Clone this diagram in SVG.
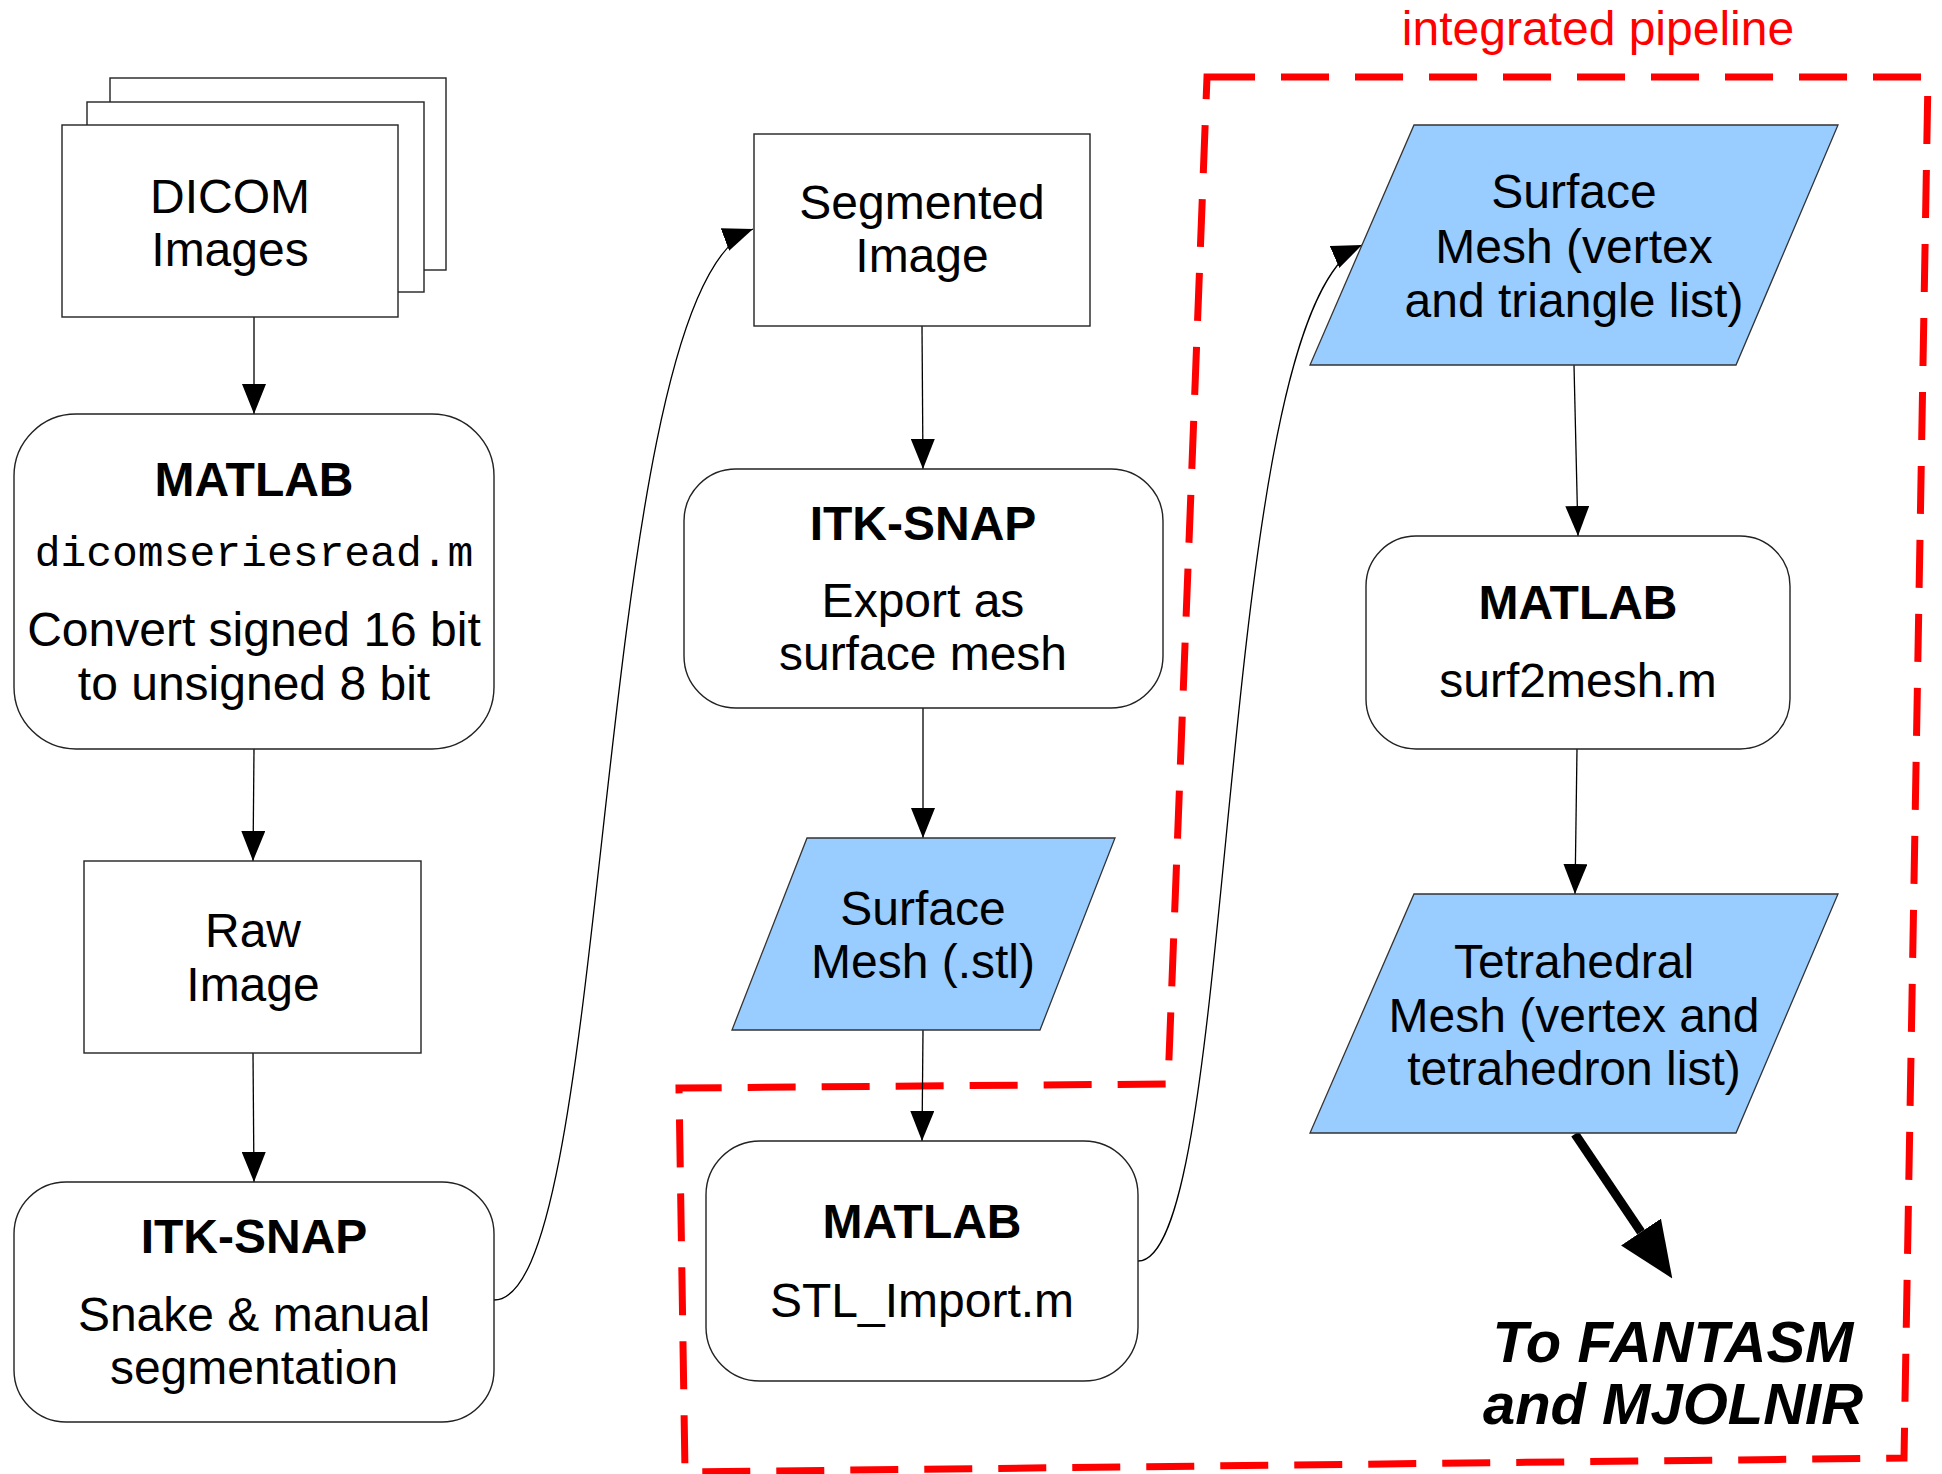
<svg xmlns="http://www.w3.org/2000/svg" width="1942" height="1474" viewBox="0 0 1942 1474">
<style>
.box{fill:#fff;stroke:#222;stroke-width:1.4}
.para{fill:#99ccff;stroke:#333;stroke-width:1.3}
.t{font-family:"Liberation Sans",Arial,sans-serif;font-size:48px;fill:#000;text-anchor:middle}
.b{font-weight:bold}
.mono{font-family:"Liberation Mono","Courier New",monospace;font-size:43px;fill:#000;text-anchor:middle}
.conn{fill:none;stroke:#000;stroke-width:1.3}
</style>
<defs>
<marker id="ah" markerUnits="userSpaceOnUse" markerWidth="30" markerHeight="24" refX="30" refY="12" orient="auto" viewBox="0 0 30 24">
<path d="M0,0 L30,12 L0,24 z" fill="#000"/>
</marker>
<marker id="bigah" markerUnits="userSpaceOnUse" markerWidth="56" markerHeight="48" refX="0" refY="24" orient="auto" viewBox="0 0 56 48">
<path d="M0,0 L56,24 L0,48 z" fill="#000"/>
</marker>
</defs>
<rect width="1942" height="1474" fill="#fff"/>

<g id="pipeline-boundary">
<path d="M1207,77 L1928,77 L1904,1458 L685,1472 L679,1088 L1168,1084 Z" fill="none" stroke="#ff0000" stroke-width="7" stroke-dasharray="48 26"/>
<text x="1598" y="45" style="font-family:'Liberation Sans',Arial,sans-serif;font-size:48px;fill:#ff0000;text-anchor:middle">integrated pipeline</text>
</g>

<g id="connectors">
<line class="conn" x1="254" y1="317" x2="254" y2="414" marker-end="url(#ah)"/>
<line class="conn" x1="254" y1="749" x2="253" y2="861" marker-end="url(#ah)"/>
<line class="conn" x1="253" y1="1053" x2="254" y2="1182" marker-end="url(#ah)"/>
<path class="conn" d="M494,1300 C615,1300 590,290 753,229" marker-end="url(#ah)"/>
<line class="conn" x1="922" y1="326" x2="923" y2="469" marker-end="url(#ah)"/>
<line class="conn" x1="923" y1="708" x2="923" y2="838" marker-end="url(#ah)"/>
<line class="conn" x1="923" y1="1030" x2="922" y2="1141" marker-end="url(#ah)"/>
<path class="conn" d="M1138,1261 C1240,1261 1212,310 1362,245" marker-end="url(#ah)"/>
<line class="conn" x1="1574" y1="365" x2="1578" y2="536" marker-end="url(#ah)"/>
<line class="conn" x1="1577" y1="749" x2="1575" y2="894" marker-end="url(#ah)"/>
<line x1="1575" y1="1134" x2="1641" y2="1232" stroke="#000" stroke-width="9" marker-end="url(#bigah)"/>
</g>

<g id="dicom-images">
<rect class="box" x="110" y="78" width="336" height="192"/>
<rect class="box" x="87" y="102" width="337" height="190"/>
<rect class="box" x="62" y="125" width="336" height="192"/>
<text class="t" x="230" y="213">DICOM</text>
<text class="t" x="230" y="266">Images</text>
</g>

<g id="matlab-dicomseriesread">
<rect class="box" x="14" y="414" width="480" height="335" rx="62" ry="62"/>
<text class="t b" x="254" y="496">MATLAB</text>
<text class="mono" x="254" y="566">dicomseriesread.m</text>
<text class="t" x="254" y="646">Convert signed 16 bit</text>
<text class="t" x="254" y="700">to unsigned 8 bit</text>
</g>

<g id="raw-image">
<rect class="box" x="84" y="861" width="337" height="192"/>
<text class="t" x="253" y="947">Raw</text>
<text class="t" x="253" y="1001">Image</text>
</g>

<g id="itksnap-segmentation">
<rect class="box" x="14" y="1182" width="480" height="240" rx="52" ry="52"/>
<text class="t b" x="254" y="1253">ITK-SNAP</text>
<text class="t" x="254" y="1331">Snake &amp; manual</text>
<text class="t" x="254" y="1384">segmentation</text>
</g>

<g id="segmented-image">
<rect class="box" x="754" y="134" width="336" height="192"/>
<text class="t" x="922" y="219">Segmented</text>
<text class="t" x="922" y="272">Image</text>
</g>

<g id="itksnap-export">
<rect class="box" x="684" y="469" width="479" height="239" rx="52" ry="52"/>
<text class="t b" x="923" y="540">ITK-SNAP</text>
<text class="t" x="923" y="617">Export as</text>
<text class="t" x="923" y="670">surface mesh</text>
</g>

<g id="surface-mesh-stl">
<polygon class="para" points="807,838 1115,838 1040,1030 732,1030"/>
<text class="t" x="923" y="925">Surface</text>
<text class="t" x="923" y="978">Mesh (.stl)</text>
</g>

<g id="matlab-stl-import">
<rect class="box" x="706" y="1141" width="432" height="240" rx="54" ry="54"/>
<text class="t b" x="922" y="1238">MATLAB</text>
<text class="t" x="922" y="1317">STL_Import.m</text>
</g>

<g id="surface-mesh-vertex">
<polygon class="para" points="1414,125 1838,125 1736,365 1310,365"/>
<text class="t" x="1574" y="208">Surface</text>
<text class="t" x="1574" y="263">Mesh (vertex</text>
<text class="t" x="1574" y="317">and triangle list)</text>
</g>

<g id="matlab-surf2mesh">
<rect class="box" x="1366" y="536" width="424" height="213" rx="50" ry="50"/>
<text class="t b" x="1578" y="619">MATLAB</text>
<text class="t" x="1578" y="697">surf2mesh.m</text>
</g>

<g id="tetrahedral-mesh">
<polygon class="para" points="1414,894 1838,894 1736,1133 1310,1133"/>
<text class="t" x="1574" y="978">Tetrahedral</text>
<text class="t" x="1574" y="1032">Mesh (vertex and</text>
<text class="t" x="1574" y="1085">tetrahedron list)</text>
</g>

<g id="to-fantasm">
<text class="t b" x="1673" y="1362" style="font-style:italic;font-size:58px">To FANTASM</text>
<text class="t b" x="1673" y="1424" style="font-style:italic;font-size:58px">and MJOLNIR</text>
</g>
</svg>
